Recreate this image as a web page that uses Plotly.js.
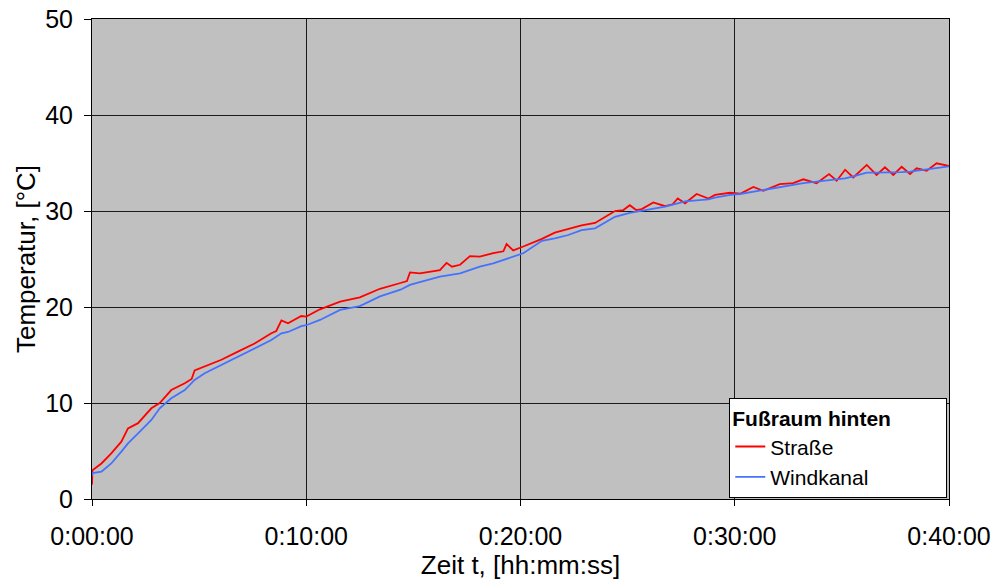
<!DOCTYPE html>
<html>
<head>
<meta charset="utf-8">
<script src="https://cdn.plot.ly/plotly-3.0.1.min.js"></script>
<style>html,body{margin:0;padding:0;background:#fff;}#chart{width:995px;height:588px;}</style>
</head>
<body>
<div id="chart"></div>
<script>
// time in minutes
var timeStrasse = [0, 0.02, 0.44, 0.9, 1.37, 1.68, 2.15, 2.77, 3.16, 3.7, 4.33, 4.65, 4.79, 5.26, 6.04, 6.81, 7.59, 8.37, 8.6, 8.84, 9.15, 9.77, 10.0, 10.64, 11.58, 12.5, 13.44, 14.4, 14.7, 14.84, 15.3, 16.24, 16.55, 16.8, 17.18, 17.64, 18.1, 18.73, 19.2, 19.35, 19.66, 20.13, 21.0, 21.6, 22.23, 22.85, 23.48, 23.94, 24.41, 24.8, 25.1, 25.4, 25.66, 26.2, 26.75, 27.1, 27.34, 27.68, 28.22, 28.77, 29.08, 29.78, 30.25, 30.87, 31.33, 32.1, 32.73, 33.2, 33.82, 34.4, 34.76, 35.15, 35.53, 36.16, 36.62, 37.01, 37.4, 37.79, 38.18, 38.49, 38.96, 39.42, 39.97, 40];
var tempStrasse = [1.5, 3.0, 3.7, 4.76, 5.97, 7.36, 7.9, 9.45, 10.0, 11.35, 12.05, 12.5, 13.4, 13.8, 14.5, 15.35, 16.2, 17.26, 17.5, 18.6, 18.3, 19.06, 19.0, 19.76, 20.55, 21.0, 21.9, 22.5, 22.7, 23.6, 23.5, 23.85, 24.6, 24.2, 24.4, 25.3, 25.25, 25.6, 25.8, 26.56, 25.9, 26.3, 27.1, 27.75, 28.1, 28.5, 28.75, 29.35, 30.0, 30.1, 30.6, 30.1, 30.2, 30.9, 30.5, 30.7, 31.3, 30.8, 31.77, 31.3, 31.67, 31.9, 31.8, 32.5, 32.1, 32.8, 32.9, 33.3, 32.9, 33.85, 33.15, 34.3, 33.5, 34.8, 33.75, 34.55, 33.75, 34.6, 33.85, 34.45, 34.2, 34.97, 34.7, 34.6];

var timeWindkanal = [0, 0.02, 0.44, 0.9, 1.37, 1.68, 2.15, 2.77, 3.16, 3.7, 4.33, 4.79, 5.26, 6.04, 6.81, 7.59, 8.37, 8.84, 9.15, 9.77, 10.0, 10.64, 11.58, 12.5, 13.44, 14.4, 14.84, 15.3, 16.24, 17.18, 17.64, 18.1, 18.73, 19.35, 19.66, 20.13, 21.0, 21.6, 22.23, 22.85, 23.48, 23.94, 24.41, 25.1, 25.66, 26.2, 26.75, 27.34, 27.68, 28.22, 28.77, 29.08, 29.78, 30.25, 30.87, 31.33, 32.1, 32.73, 33.2, 33.82, 34.4, 34.76, 35.15, 35.53, 36.16, 36.62, 37.01, 37.4, 37.79, 38.18, 38.96, 39.42, 39.97, 40];
var tempWindkanal = [2.4, 2.7, 2.85, 3.7, 4.93, 5.8, 6.84, 8.23, 9.45, 10.5, 11.35, 12.4, 13.1, 13.96, 14.8, 15.7, 16.56, 17.26, 17.4, 18.0, 18.1, 18.65, 19.7, 20.1, 21.1, 21.8, 22.3, 22.6, 23.16, 23.5, 23.85, 24.2, 24.55, 25.0, 25.3, 25.6, 26.9, 27.15, 27.5, 28.0, 28.2, 28.8, 29.4, 29.8, 30.0, 30.25, 30.45, 30.8, 31.0, 31.1, 31.2, 31.4, 31.67, 31.77, 32.0, 32.2, 32.5, 32.7, 32.9, 33.05, 33.2, 33.3, 33.4, 33.6, 34.0, 34.0, 34.0, 34.0, 34.05, 34.1, 34.35, 34.45, 34.6, 34.65];

var xTickVals = [0, 10, 20, 30, 40];
var xTickText = ["0:00:00", "0:10:00", "0:20:00", "0:30:00", "0:40:00"];

var font = "Liberation Sans, Arial, Helvetica, sans-serif";
var legendTitle = "<b>Fußraum hinten</b>" + "\u00A0".repeat(9);

var traces = [
  {x: timeStrasse, y: tempStrasse, type: "scatter", mode: "lines", name: "Straße",
   line: {color: "#ff0000", width: 1.8}},
  {x: timeWindkanal, y: tempWindkanal, type: "scatter", mode: "lines", name: "Windkanal",
   line: {color: "#4472ff", width: 1.8}}
];

var layout = {
  width: 995, height: 588,
  margin: {l: 92, r: 46, t: 19, b: 89},
  paper_bgcolor: "#ffffff",
  plot_bgcolor: "#c0c0c0",
  font: {family: font, size: 24, color: "#000"},
  showlegend: true,
  xaxis: {
    range: [0, 40], tickvals: xTickVals, ticktext: xTickText,
    showgrid: true, gridcolor: "#1a1a1a", gridwidth: 1,
    zeroline: false, showline: true, linecolor: "#000", linewidth: 1, mirror: true,
    ticks: "outside", ticklen: 6, tickcolor: "#000",
    ticklabelstandoff: 9,
    tickfont: {size: 25, family: font},
    title: {text: "Zeit t, [hh:mm:ss]", font: {size: 26, family: font}, standoff: 6}
  },
  yaxis: {
    range: [0, 50], dtick: 10, tick0: 0,
    showgrid: true, gridcolor: "#1a1a1a", gridwidth: 1,
    zeroline: false, showline: true, linecolor: "#000", linewidth: 1, mirror: true,
    ticks: "outside", ticklen: 7, tickcolor: "#000",
    ticklabelstandoff: 6,
    tickfont: {size: 25, family: font},
    title: {text: "Temperatur, [°C]", font: {size: 26, family: font}, standoff: 2}
  },
  legend: {
    x: 0.998, xanchor: "right", y: 0.002, yanchor: "bottom",
    bgcolor: "#ffffff", bordercolor: "#000", borderwidth: 1,
    font: {size: 21, family: font},
    title: {text: legendTitle, font: {size: 21, family: font}},
    tracegroupgap: 0
  }
};

Plotly.newPlot("chart", traces, layout, {displayModeBar: false, staticPlot: true});
</script>
</body>
</html>
